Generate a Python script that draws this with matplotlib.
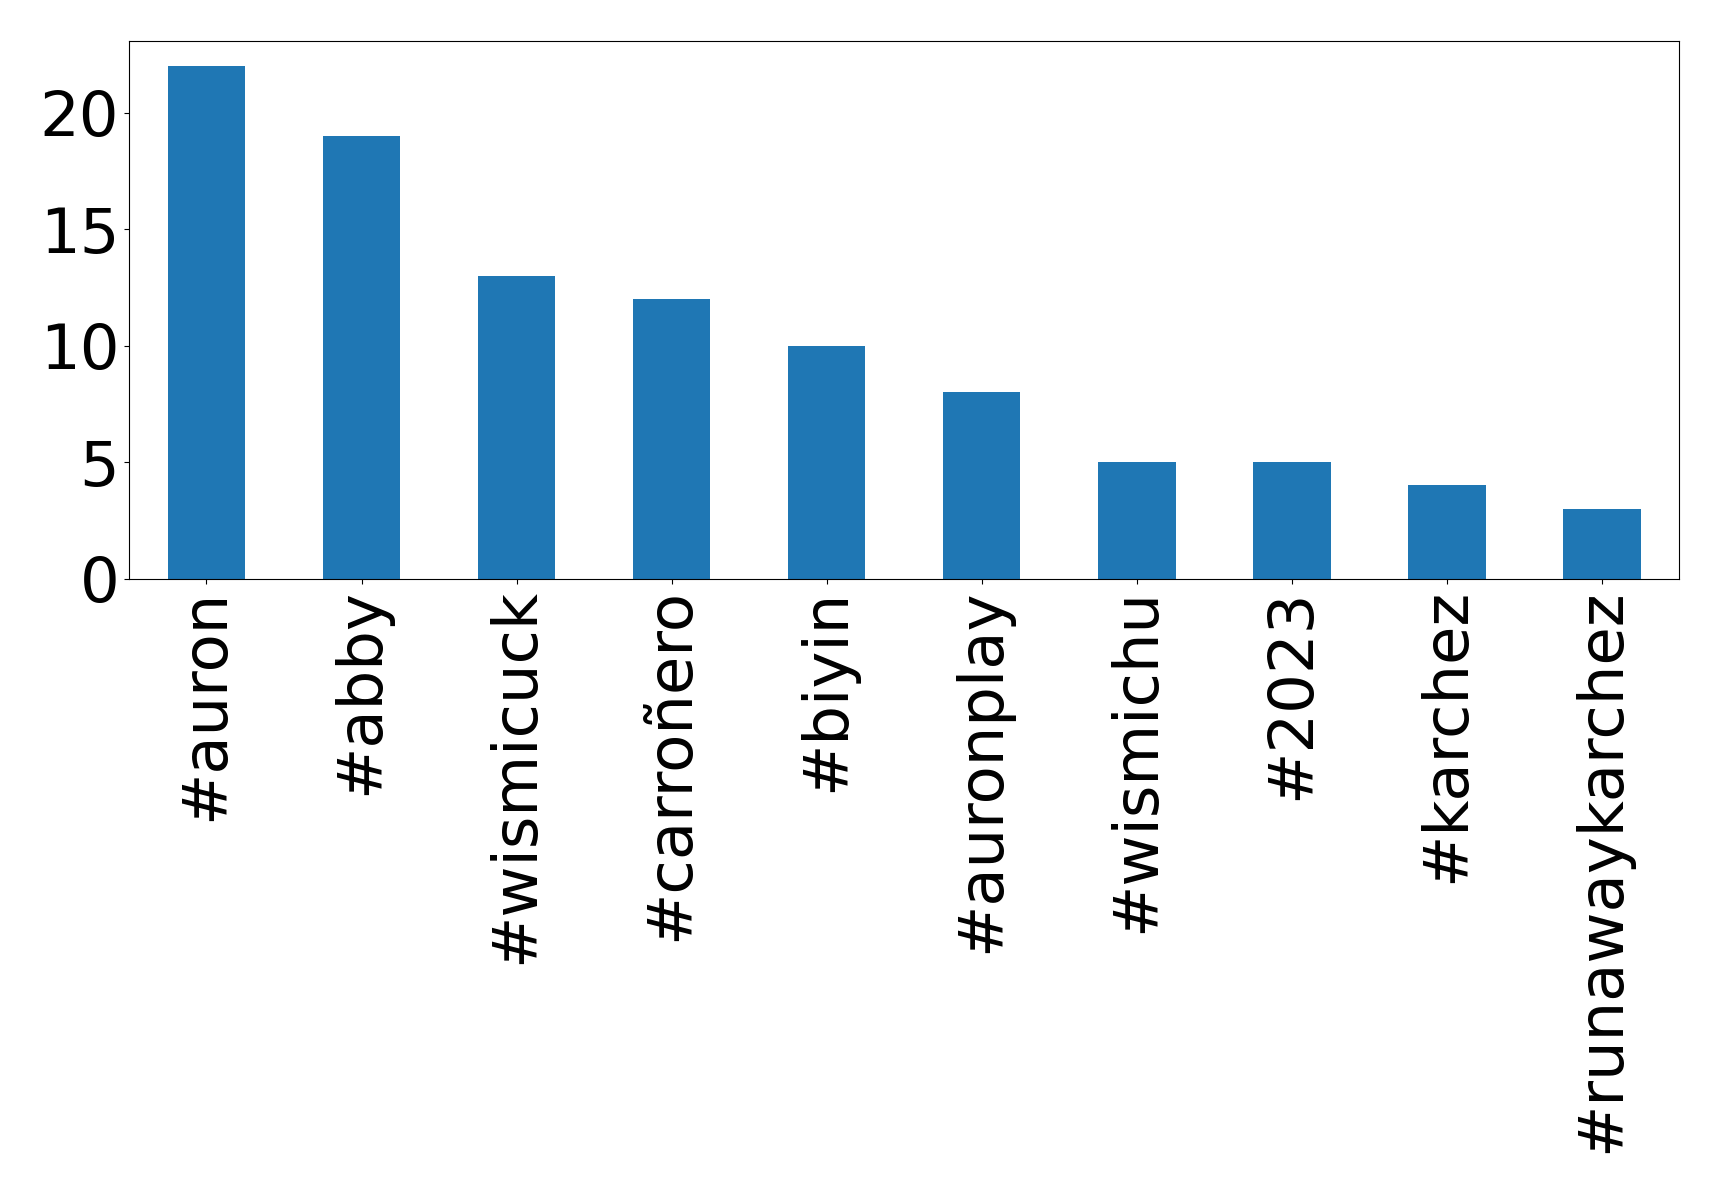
import matplotlib.pyplot as plt
import numpy as np

hashtags = ["#auron", "#abby", "#wismicuck", "#carroñero", "#biyin",
            "#auronplay", "#wismichu", "#2023", "#karchez", "#runawaykarchez"]
counts = [22, 19, 13, 12, 10, 8, 5, 5, 4, 3]

fig = plt.figure(figsize=(17.19, 11.93), dpi=100)
ax = fig.add_subplot(111)
fig.subplots_adjust(left=0.075, right=0.977, top=0.966, bottom=0.515)

x = np.arange(len(hashtags))
ax.bar(x, counts, width=0.5, color="#1f77b4")
ax.set_xlim(-0.5, len(hashtags) - 0.5)
ax.set_ylim(0, max(counts) * 1.05)
ax.set_xticks(x)
ax.set_xticklabels(hashtags, rotation=90)
ax.set_yticks([0, 5, 10, 15, 20])
ax.tick_params(labelsize=45)

fig.savefig("out.png", dpi=100)
